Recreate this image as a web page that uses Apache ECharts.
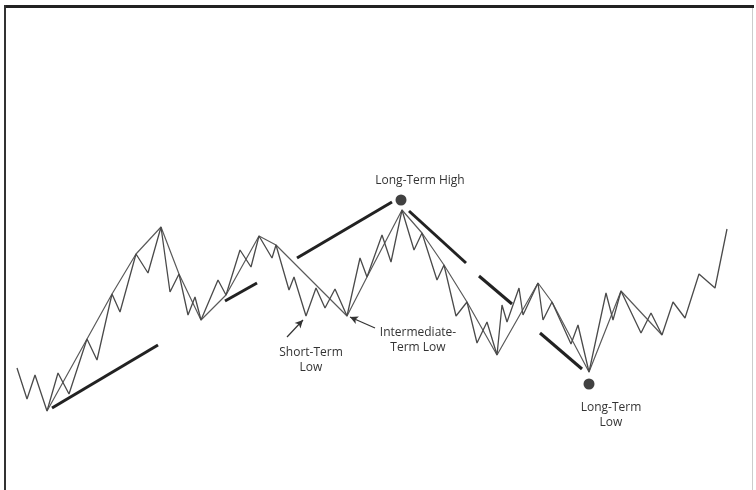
<!DOCTYPE html>
<html><head><meta charset="utf-8">
<script src="https://cdn.jsdelivr.net/npm/echarts@6/dist/echarts.min.js"></script>
<style>html,body{margin:0;padding:0;background:#fff}#c{width:756px;height:490px}</style>
</head><body><div id="c"></div>
<script>
// price path: [day, price]
const pricePath = [[0,62],[10,31],[18,55],[30,19],[41,57],[52,36],[70,91],[80,70],[95,136],[103,118],[119,176],[131,157],[144,203],[153,138],[162,156],[171,115],[178,133],[184,110],[201,150],[209,135],[223,180],[234,163],[242,194],[255,172],[259,185],[272,140],[277,153],[289,114],[299,142],[308,122],[318,141],[330,114],[343,172],[350,153],[365,195],[374,168],[385,220],[397,180],[405,197],[420,150],[427,165],[439,114],[450,128],[460,87],[470,108],[480,75],[485,125],[490,108],[502,142],[506,115],[521,147],[526,110],[535,128],[554,86],[561,105],[572,58],[589,137],[596,110],[604,139],[624,97],[634,117],[645,95],[656,128],[668,112],[682,156],[698,142],[710,201]];
// swing line connecting major pivots
const swingPath = [[30,19],[70,91],[95,136],[119,176],[144,203],[162,156],[184,110],[209,135],[242,194],[259,185],[330,114],[350,153],[385,220],[405,197],[427,165],[450,128],[480,75],[521,147],[535,128],[572,58],[604,139],[645,95]];
// thick trend segments
const trendSegments = [
  [[35,22],[141,85]],
  [[208,129],[240,147]],
  [[280,172],[375,228]],
  [[392,219],[449,167]],
  [[462,154],[495,126]],
  [[523,97],[565,61]]
];
// extreme markers
const extremes = [[384,230],[572,46]];
// arrows: [from, to]
const arrows = [
  [[270,93],[286,110]],
  [[358,102],[333,113]]
];
const labels = [
  {text:'Long-Term High', x:420, y:181},
  {text:'Short-Term\nLow', x:311, y:360},
  {text:'Intermediate-\nTerm Low', x:418, y:340},
  {text:'Long-Term\nLow', x:611, y:415}
];

const chart = echarts.init(document.getElementById('c'), null, {renderer:'canvas'});
const series = [
  {type:'line', data: swingPath, symbol:'none', lineStyle:{color:'#5a5a5a', width:1.2}, z:2, silent:true},
  {type:'line', data: pricePath, symbol:'none', lineStyle:{color:'#4a4a4a', width:1.3}, z:3, silent:true,
   markLine:{silent:true, symbol:['none','arrow'], symbolSize:[6,8], label:{show:false},
     lineStyle:{color:'#333', width:1.2, type:'solid'},
     data: arrows.map(a => [{coord:a[0]},{coord:a[1]}])}}
];
trendSegments.forEach(s => series.push({type:'line', data:s, symbol:'none', lineStyle:{color:'#222', width:3}, z:4, silent:true}));
series.push({type:'scatter', data: extremes, symbolSize:11, itemStyle:{color:'#111'}, z:5, silent:true});

chart.setOption({
  animation:false,
  backgroundColor:'#fff',
  grid:{left:17, right:29, top:0, bottom:60},
  xAxis:{type:'value', min:0, max:710, show:false},
  yAxis:{type:'value', min:0, max:430, show:false},
  series: series,
  graphic: [
    {type:'rect', shape:{x:4, y:5, width:750, height:3}, style:{fill:'#222'}},
    {type:'rect', shape:{x:4, y:5, width:2, height:485}, style:{fill:'#333'}},
    {type:'rect', shape:{x:752, y:8, width:1, height:482}, style:{fill:'#ccc'}}
  ].concat(labels.map(l => ({type:'text', x:l.x, y:l.y, style:{text:l.text, textAlign:'center', textVerticalAlign:'middle', font:'12px "Open Sans"', lineHeight:15, fill:'#333'}})))
});
</script></body></html>
